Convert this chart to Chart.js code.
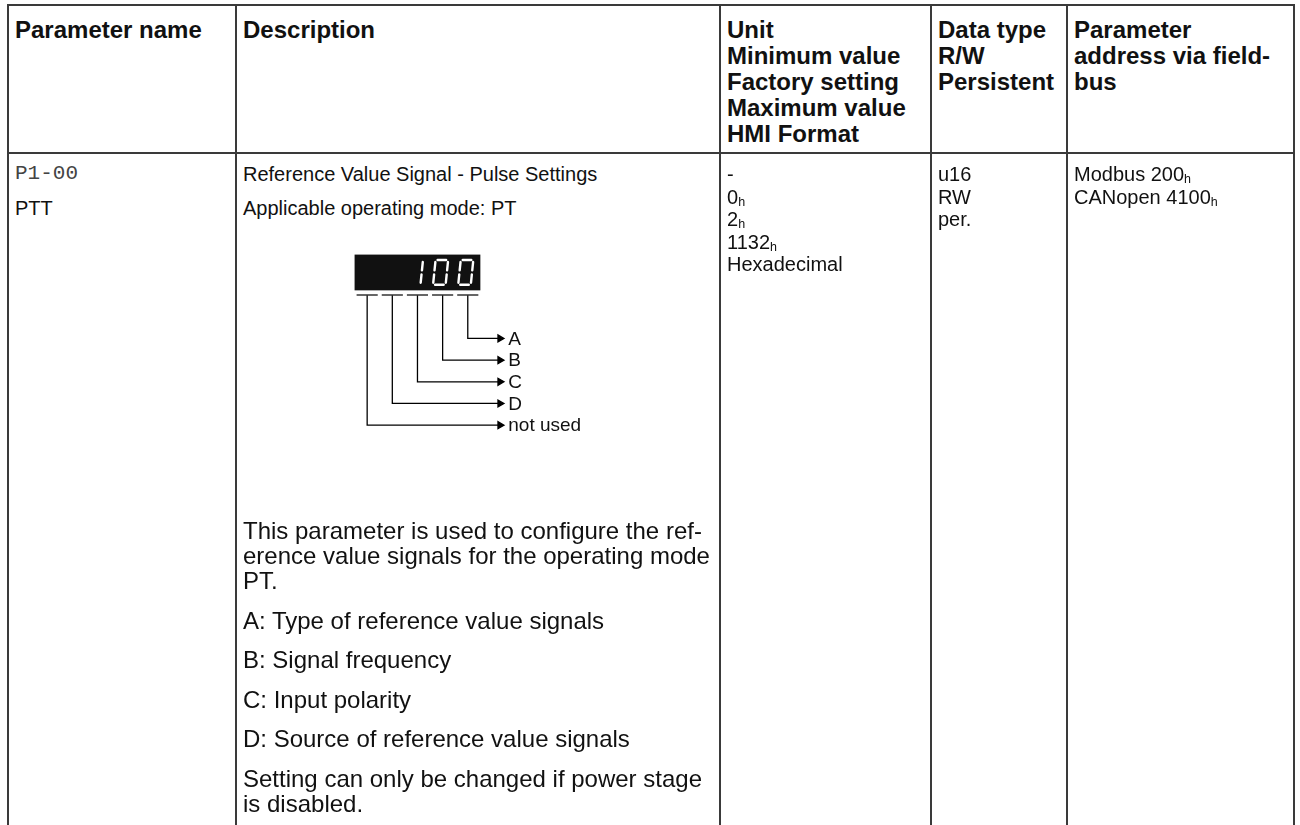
<!DOCTYPE html>
<html lang="en">
<head>
    <meta charset="UTF-8">
    <title>P1-00 PTT</title>
    <script src="https://cdn.jsdelivr.net/npm/chart.js"></script>
    <style>
        body { margin: 0; width: 1300px; height: 825px; overflow: hidden; background: #fff;
               font-family: "Liberation Sans", Arial, sans-serif; color: #111; }
        table { position: absolute; left: 7px; top: 4px; border-collapse: collapse; table-layout: fixed; }
        th, td { border: 2px solid #3a3a3a; vertical-align: top; text-align: left; white-space: nowrap; }
        th { font-weight: bold; font-size: 24px; line-height: 26px; padding: 11px 6px 0 6px; height: 135px; }
        td { font-size: 20px; line-height: 22.5px; padding: 9px 6px 0 6px; height: 700px; }
        p { margin: 0 0 11px 0; }
        .note { font-size: 24px; line-height: 25px; margin-bottom: 14.5px; }
        .mono { font-family: "Liberation Mono", "Courier New", monospace; font-size: 21px; color: #444; }
        sub { font-size: 12.5px; vertical-align: baseline; position: relative; top: 2px; line-height: 0; }
        #diagram { display: block; margin: 0; }
    </style>
</head>
<body>
    <table id="paramTable"></table>

    <script>
        // table content
        const headers = [
            ['Parameter name'],
            ['Description'],
            ['Unit', 'Minimum value', 'Factory setting', 'Maximum value', 'HMI Format'],
            ['Data type', 'R/W', 'Persistent'],
            ['Parameter', 'address via field-', 'bus']
        ];
        const colWidths = [228, 484, 211, 136, 227];
        const paramNames = ['P1-00', 'PTT'];
        const descTitle = ['Reference Value Signal - Pulse Settings', 'Applicable operating mode: PT'];
        const descNotes = [
            ['This parameter is used to configure the ref-', 'erence value signals for the operating mode', 'PT.'],
            ['A: Type of reference value signals'],
            ['B: Signal frequency'],
            ['C: Input polarity'],
            ['D: Source of reference value signals'],
            ['Setting can only be changed if power stage', 'is disabled.']
        ];
        const unitValues = [['-', ''], ['0', 'h'], ['2', 'h'], ['1132', 'h'], ['Hexadecimal', '']];
        const dataTypeValues = ['u16', 'RW', 'per.'];
        const fieldbusAddr = [['Modbus 200', 'h'], ['CANopen 4100', 'h']];

        // display diagram
        const displayDigits = ['', '', '1', '0', '0'];
        const fieldLabels = ['A', 'B', 'C', 'D', 'not used'];
        const fieldDigit = [4, 3, 2, 1, 0];

        const withSub = (v) => v[0] + (v[1] ? '<sub>' + v[1] + '</sub>' : '');

        let html = '<colgroup>' + colWidths.map(w => '<col style="width:' + w + 'px">').join('') + '</colgroup>';
        html += '<tr>' + headers.map(h => '<th>' + h.join('<br>') + '</th>').join('') + '</tr>';
        html += '<tr>';
        html += '<td><p class="mono">' + paramNames[0] + '</p><p>' + paramNames[1] + '</p></td>';
        html += '<td>' + descTitle.map(t => '<p>' + t + '</p>').join('') +
                '<canvas id="diagram" width="420" height="288"></canvas>' +
                descNotes.map(n => '<p class="note">' + n.join('<br>') + '</p>').join('') + '</td>';
        html += '<td>' + unitValues.map(withSub).join('<br>') + '</td>';
        html += '<td>' + dataTypeValues.join('<br>') + '</td>';
        html += '<td>' + fieldbusAddr.map(withSub).join('<br>') + '</td>';
        html += '</tr>';
        document.getElementById('paramTable').innerHTML = html;

        // 7-segment map
        const SEG = { '0': 'abcdef', '1': 'bc' };
        const arrowX = 5.78;

        const datasets = [];
        // dash row under the display
        displayDigits.forEach((d, i) => {
            datasets.push({
                data: [{ x: i + 0.08, y: 0 }, { x: i + 0.92, y: 0 }],
                borderColor: '#333', borderWidth: 1.5, pointRadius: 0, showLine: true
            });
        });
        // one leg per field: down from its digit, then right to the arrow
        fieldLabels.forEach((label, k) => {
            const x = fieldDigit[k] + 0.5;
            const level = k + 2;
            datasets.push({
                label: label,
                data: [{ x: x, y: 0 }, { x: x, y: level }, { x: arrowX, y: level }],
                borderColor: '#000', backgroundColor: '#000', borderWidth: 1.3,
                pointRadius: [0, 0, 4], pointStyle: 'triangle', rotation: 90,
                showLine: true
            });
        });

        const displayPlugin = {
            id: 'display',
            beforeDatasetsDraw(chart) {
                const { ctx, scales: { x, y } } = chart;
                ctx.save();
                ctx.fillStyle = '#111';
                const left = x.getPixelForValue(0), right = x.getPixelForValue(displayDigits.length);
                const top = y.getPixelForValue(-1.87), bottom = y.getPixelForValue(-0.22);
                ctx.fillRect(left, top, right - left, bottom - top);

                ctx.strokeStyle = '#fff';
                ctx.lineWidth = 2.4;
                ctx.lineCap = 'round';
                displayDigits.forEach((d, i) => {
                    if (!SEG[d]) return;
                    const L = x.getPixelForValue(i + 0.12), R = x.getPixelForValue(i + 0.62);
                    const T = y.getPixelForValue(-1.62), B = y.getPixelForValue(-0.48);
                    const M = (T + B) / 2, slant = 2.5, g = 2;
                    const sx = (px, py) => px + slant * (B - py) / (B - T);
                    const seg = {
                        a: [[L + g, T], [R - g, T]],
                        b: [[R, T + g], [R, M - g]],
                        c: [[R, M + g], [R, B - g]],
                        d: [[L + g, B], [R - g, B]],
                        e: [[L, M + g], [L, B - g]],
                        f: [[L, T + g], [L, M - g]],
                        g: [[L + g, M], [R - g, M]]
                    };
                    for (const s of SEG[d]) {
                        const [p1, p2] = seg[s];
                        ctx.beginPath();
                        ctx.moveTo(sx(p1[0], p1[1]), p1[1]);
                        ctx.lineTo(sx(p2[0], p2[1]), p2[1]);
                        ctx.stroke();
                    }
                });
                ctx.restore();
            },
            afterDatasetsDraw(chart) {
                const { ctx, scales: { x, y } } = chart;
                ctx.save();
                ctx.fillStyle = '#111';
                ctx.font = '19px "Liberation Sans", Arial, sans-serif';
                ctx.textBaseline = 'middle';
                fieldLabels.forEach((label, k) => {
                    ctx.fillText(label, x.getPixelForValue(arrowX + 0.33), y.getPixelForValue(k + 2) + 1);
                });
                ctx.restore();
            }
        };

        new Chart(document.getElementById('diagram'), {
            type: 'scatter',
            data: { datasets: datasets },
            options: {
                responsive: false,
                animation: false,
                layout: { padding: 0 },
                plugins: { legend: { display: false }, tooltip: { enabled: false } },
                scales: {
                    x: { type: 'linear', display: false, min: -4.225, max: 12.05 },
                    y: { type: 'linear', display: false, reverse: true, min: -2.76, max: 10.04 }
                }
            },
            plugins: [displayPlugin]
        });
    </script>
</body>
</html>
